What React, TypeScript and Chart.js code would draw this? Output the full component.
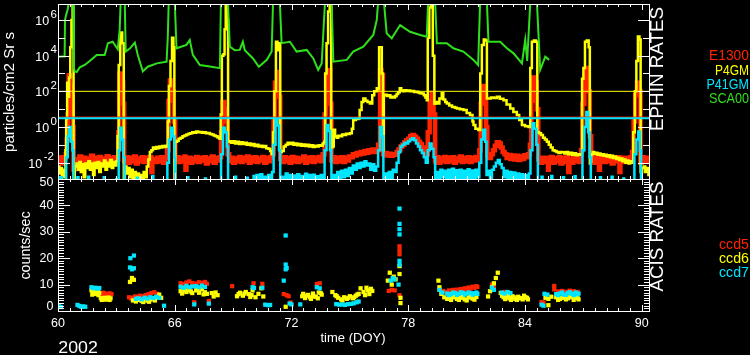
import React, { useEffect, useRef } from "react";
import { Chart, registerables } from "chart.js";
Chart.register(...registerables);

// ---------- axis ranges / ticks ----------
const X_MIN = 60;
const X_MAX = 90.37;
const TOP_MIN = 0.00121;
const TOP_MAX = 7.89e6;
const ACIS_MIN = 0;
const ACIS_MAX = 50;
const xMajorTicks = [60, 66, 72, 78, 84, 90];
const xTickLabels = ["60", "66", "72", "78", "84", "90"];
const topDecades = [-2, -1, 0, 1, 2, 3, 4, 5, 6];
const topLabelExps = ["-2", "0", "2", "4", "6"];
const acisLabelVals = [0, 10, 20, 30, 40, 50];
const acisTickLabels = ["0", "10", "20", "30", "40", "50"];

// ---------- EPHIN series (day, particles/cm2 sr s) ----------
const sca00: [number, number][] = [
  [60.0, 8.7e3], [60.2, 9e3], [60.34, 9e3], [60.36, 1e6], [60.42, 2e6], [60.5, 4e6], [60.55, 1e7], [60.78, 1e7],
  [60.82, 2e3], [60.86, 1.3e3], [60.96, 1.2e3], [61.12, 2.2e3], [61.37, 3e3], [61.63, 5e3], [61.99, 1.1e4],
  [62.4, 1.1e4], [62.56, 5e4], [62.81, 6e4], [63.07, 2.3e4], [63.17, 3e5], [63.22, 1e7], [63.43, 1e7],
  [63.48, 1.7e4], [63.69, 2.5e4], [63.95, 5.4e4], [64.1, 1.1e4], [64.36, 1.3e3], [64.61, 2.4e3], [65.08, 3.7e3],
  [65.58, 4.6e3], [65.64, 1e5], [65.69, 1e7], [66.0, 1e7], [66.09, 2.6e4], [66.6, 4e4], [66.77, 7.6e4],
  [66.93, 1.1e4], [67.29, 3e3], [67.8, 2.5e3], [68.32, 2e3], [68.37, 1e7], [68.73, 1e7], [68.83, 3.2e4],
  [69.09, 2e4], [69.34, 2.1e4], [69.5, 6e4], [69.6, 2e4], [70.02, 7e3], [70.32, 2.4e3], [70.73, 5.8e3],
  [70.98, 1.7e4], [71.05, 1e7], [71.4, 1e7], [71.49, 5e4], [71.92, 6e4], [72.26, 1.7e4], [72.78, 2.1e4],
  [73.12, 7e3], [73.37, 1.6e3], [73.55, 3.7e3], [73.72, 1e7], [74.06, 1e7], [74.15, 4.6e3], [74.84, 5.8e3],
  [75.17, 1.7e4], [75.69, 3.2e4], [76.2, 1.45e5], [76.38, 1e6], [76.45, 1e7], [76.75, 1e7], [76.89, 1.8e5],
  [77.15, 9.3e4], [77.58, 5.2e5], [78.09, 2.2e5], [78.61, 1.45e5], [78.95, 1.15e5], [79.02, 1e7], [79.38, 1e7],
  [79.47, 5e4], [79.98, 5e4], [80.32, 2.6e4], [80.83, 1.7e4], [81.35, 5.8e3], [81.59, 3e3], [81.69, 1e7],
  [82.04, 1e7], [82.12, 6e4], [82.72, 6e4], [83.07, 2.6e4], [83.41, 1.35e4], [83.84, 3.7e3], [84.01, 7.6e4],
  [84.11, 5e3], [84.27, 1e7], [84.61, 1e7], [84.78, 1.6e3], [85.04, 8.7e3], [85.24, 5.8e3],
];

const p4gm: [number, number][] = [
  [60.0, 0.006], [60.07, 0.0025], [60.14, 0.005], [60.2, 0.0018], [60.27, 0.004], [60.33, 0.0015], [60.38, 0.05],
  [60.42, 3], [60.47, 300], [60.52, 50], [60.57, 600], [60.63, 3e4], [60.69, 1e6], [60.75, 8e6], [60.8, 1e-4],
  [60.86, 0.006], [60.95, 0.009], [61.02, 0.004], [61.1, 0.011], [61.17, 0.003], [61.25, 0.008], [61.32, 0.0015],
  [61.4, 0.009], [61.48, 0.005], [61.56, 0.012], [61.64, 0.004], [61.72, 0.009], [61.8, 0.002], [61.88, 0.01],
  [61.96, 0.005], [62.04, 0.011], [62.12, 0.003], [62.2, 0.009], [62.28, 0.006], [62.36, 0.013], [62.44, 0.004],
  [62.52, 0.01], [62.6, 0.006], [62.68, 0.014], [62.76, 0.005], [62.84, 0.011], [62.92, 0.007], [63.0, 0.012],
  [63.06, 0.3], [63.12, 3e3], [63.2, 2e5], [63.3, 5e4], [63.38, 1e-4], [63.44, 0.006], [63.52, 0.0025],
  [63.6, 0.005], [63.68, 0.0015], [63.76, 0.004], [63.84, 0.0012], [63.92, 0.003], [64.0, 0.0011], [64.08, 0.0025],
  [64.16, 0.001], [64.24, 0.002], [64.32, 0.0012], [64.4, 0.003], [64.48, 0.0015], [64.56, 0.006], [64.64, 0.015],
  [64.72, 0.04], [64.8, 0.05], [64.88, 0.07], [64.96, 0.06], [65.04, 0.075], [65.12, 0.065], [65.2, 0.08],
  [65.28, 0.07], [65.36, 0.085], [65.44, 0.075], [65.52, 0.09], [65.58, 0.08], [65.64, 2], [65.7, 200],
  [65.78, 5e3], [65.86, 1e5], [65.93, 3e4], [65.98, 1e-4], [66.03, 0.15], [66.12, 0.17], [66.2, 0.22],
  [66.3, 0.25], [66.4, 0.3], [66.5, 0.33], [66.6, 0.38], [66.7, 0.42], [66.8, 0.45], [66.9, 0.5], [67.0, 0.48],
  [67.1, 0.55], [67.2, 0.5], [67.3, 0.52], [67.4, 0.47], [67.5, 0.5], [67.6, 0.44], [67.7, 0.46], [67.8, 0.4],
  [67.9, 0.38], [68.0, 0.33], [68.1, 0.3], [68.2, 0.26], [68.3, 0.22], [68.36, 5], [68.42, 1e4], [68.5, 1.2e4],
  [68.56, 3e5], [68.62, 8e6], [68.69, 1e6], [68.74, 0.15], [68.8, 0.16], [68.9, 0.13], [69.0, 0.16], [69.1, 0.12],
  [69.2, 0.15], [69.3, 0.11], [69.4, 0.14], [69.5, 0.11], [69.6, 0.13], [69.7, 0.1], [69.8, 0.12], [69.9, 0.095],
  [70.0, 0.11], [70.1, 0.085], [70.2, 0.1], [70.3, 0.08], [70.4, 0.09], [70.5, 0.075], [70.6, 0.085], [70.7, 0.065],
  [70.8, 0.06], [70.9, 0.045], [70.98, 0.03], [71.05, 0.5], [71.12, 100], [71.2, 6e4], [71.28, 2e4], [71.35, 5e4],
  [71.42, 0.04], [71.5, 0.045], [71.6, 0.08], [71.7, 0.1], [71.8, 0.13], [71.9, 0.11], [72.0, 0.13], [72.1, 0.1],
  [72.2, 0.12], [72.3, 0.095], [72.4, 0.11], [72.5, 0.09], [72.6, 0.105], [72.7, 0.085], [72.8, 0.1], [72.9, 0.08],
  [73.0, 0.095], [73.1, 0.075], [73.2, 0.09], [73.3, 0.08], [73.4, 0.095], [73.5, 0.09], [73.6, 0.12], [73.68, 0.15],
  [73.73, 1e3], [73.8, 5e4], [73.88, 3e6], [73.96, 8e6], [74.04, 0.07], [74.1, 0.08], [74.17, 0.7], [74.24, 0.3],
  [74.32, 0.25], [74.4, 0.32], [74.5, 0.3], [74.6, 0.38], [74.7, 0.35], [74.8, 0.42], [74.9, 0.4], [75.0, 0.45],
  [75.1, 0.8], [75.17, 2.5], [75.3, 2.8], [75.43, 3], [75.5, 9], [75.6, 25], [75.69, 40], [75.8, 30], [75.9, 25],
  [76.03, 21], [76.15, 60], [76.25, 100], [76.38, 150], [76.45, 130], [76.5, 3e4], [76.58, 3e4], [76.64, 1e3],
  [76.7, 0.05], [76.74, 60], [76.82, 65], [76.9, 55], [77.0, 60], [77.08, 45], [77.16, 50], [77.24, 45],
  [77.32, 55], [77.4, 70], [77.48, 90], [77.56, 150], [77.64, 110], [77.72, 100], [77.8, 115], [77.9, 105],
  [78.0, 110], [78.1, 100], [78.2, 105], [78.3, 92], [78.4, 95], [78.5, 85], [78.6, 78], [78.7, 75], [78.8, 60],
  [78.88, 45], [78.95, 32], [79.0, 1e5], [79.08, 5e6], [79.16, 8e6], [79.26, 1e4], [79.34, 20], [79.4, 25],
  [79.48, 21], [79.6, 40], [79.72, 78], [79.8, 35], [79.9, 25], [79.98, 21], [80.1, 16], [80.25, 13], [80.4, 12],
  [80.5, 11], [80.65, 10], [80.83, 9], [81.0, 6], [81.17, 4.7], [81.3, 2], [81.35, 1.3], [81.45, 0.8], [81.6, 0.68],
  [81.7, 1e3], [81.78, 4e4], [81.88, 8e4], [81.96, 7e4], [82.04, 40], [82.12, 40], [82.25, 45], [82.4, 42],
  [82.55, 50], [82.7, 38], [82.89, 32], [83.05, 18], [83.24, 11], [83.4, 7], [83.58, 4.7], [83.7, 2.5],
  [83.84, 1.3], [84.0, 1.1], [84.18, 1.0], [84.27, 2e3], [84.35, 6e4], [84.45, 7e4], [84.55, 6e4], [84.63, 0.5],
  [84.72, 0.45], [84.82, 0.35], [84.92, 0.25], [85.02, 0.2], [85.12, 0.15], [85.22, 0.1], [85.32, 0.07],
  [85.42, 0.05], [85.52, 0.045], [85.62, 0.04], [85.72, 0.035], [85.82, 0.04], [85.92, 0.038], [86.02, 0.033],
  [86.12, 0.04], [86.22, 0.03], [86.32, 0.036], [86.42, 0.028], [86.52, 0.034], [86.62, 0.026], [86.72, 0.03],
  [86.8, 0.028], [86.88, 0.03], [86.93, 500], [87.0, 2e3], [87.08, 6e4], [87.17, 7e4], [87.27, 3e4], [87.33, 0.009],
  [87.4, 0.03], [87.48, 0.04], [87.56, 0.032], [87.64, 0.036], [87.72, 0.028], [87.8, 0.033], [87.88, 0.026],
  [87.96, 0.03], [88.04, 0.024], [88.12, 0.028], [88.2, 0.022], [88.28, 0.026], [88.36, 0.02], [88.44, 0.024],
  [88.52, 0.018], [88.6, 0.022], [88.68, 0.016], [88.76, 0.019], [88.84, 0.014], [88.92, 0.017], [89.0, 0.012],
  [89.08, 0.015], [89.16, 0.01], [89.24, 0.013], [89.32, 0.009], [89.4, 0.012], [89.48, 0.01], [89.56, 0.5],
  [89.64, 100], [89.72, 5e3], [89.8, 1.2e5], [89.88, 8e4], [89.94, 0.003], [90.02, 0.005], [90.1, 0.006],
  [90.18, 0.003], [90.26, 0.005], [90.34, 0.002], [90.4, 0.004],
];

const e1300: [number, number][] = [
  [60.0, 0.012], [60.1, 0.02], [60.2, 0.009], [60.3, 0.018], [60.4, 0.03], [60.45, 0.2], [60.5, 5], [60.55, 800],
  [60.62, 200], [60.7, 50], [60.76, 1], [60.8, 0.004], [60.85, 0.016], [61.0, 0.01], [61.1, 0.022], [61.2, 0.011],
  [61.3, 0.019], [61.4, 0.008], [61.5, 0.017], [61.6, 0.012], [61.7, 0.024], [61.8, 0.01], [61.9, 0.018],
  [62.0, 0.013], [62.1, 0.021], [62.2, 0.009], [62.3, 0.017], [62.4, 0.012], [62.5, 0.023], [62.6, 0.011],
  [62.7, 0.018], [62.8, 0.01], [62.9, 0.02], [63.0, 0.015], [63.1, 0.5], [63.15, 1000], [63.25, 300], [63.35, 20],
  [63.4, 0.012], [63.5, 0.02], [63.6, 0.01], [63.7, 0.018], [63.8, 0.012], [63.9, 0.022], [64.0, 0.009],
  [64.1, 0.017], [64.2, 0.012], [64.3, 0.02], [64.4, 0.011], [64.5, 0.019], [64.6, 0.013], [64.7, 0.021],
  [64.8, 0.003], [64.85, 0.016], [65.0, 0.011], [65.1, 0.019], [65.2, 0.012], [65.3, 0.02], [65.4, 0.01],
  [65.5, 0.018], [65.6, 0.05], [65.68, 30], [65.75, 400], [65.85, 100], [65.95, 2], [66.02, 0.015], [66.1, 0.02],
  [66.2, 0.011], [66.3, 0.018], [66.4, 0.013], [66.5, 0.022], [66.55, 0.004], [66.6, 0.012], [66.7, 0.019],
  [66.8, 0.01], [66.9, 0.017], [67.0, 0.012], [67.1, 0.021], [67.2, 0.011], [67.3, 0.018], [67.4, 0.013],
  [67.5, 0.02], [67.6, 0.009], [67.7, 0.017], [67.8, 0.012], [67.9, 0.022], [68.0, 0.01], [68.1, 0.018],
  [68.2, 0.013], [68.3, 0.02], [68.38, 0.5], [68.45, 25], [68.55, 10], [68.65, 2], [68.72, 0.03], [68.8, 0.012],
  [68.9, 0.019], [69.0, 0.01], [69.1, 0.017], [69.2, 0.012], [69.3, 0.021], [69.4, 0.011], [69.5, 0.018],
  [69.6, 0.013], [69.7, 0.022], [69.8, 0.01], [69.9, 0.019], [70.0, 0.012], [70.1, 0.02], [70.2, 0.011],
  [70.3, 0.017], [70.4, 0.013], [70.5, 0.021], [70.6, 0.01], [70.7, 0.018], [70.8, 0.012], [70.9, 0.02],
  [71.0, 0.03], [71.08, 2], [71.15, 300], [71.25, 1200], [71.35, 50], [71.42, 0.016], [71.5, 0.011], [71.6, 0.02],
  [71.7, 0.012], [71.8, 0.018], [71.9, 0.01], [72.0, 0.021], [72.1, 0.012], [72.2, 0.019], [72.3, 0.011],
  [72.4, 0.017], [72.5, 0.013], [72.6, 0.022], [72.7, 0.01], [72.8, 0.018], [72.9, 0.012], [73.0, 0.02],
  [73.1, 0.011], [73.2, 0.019], [73.3, 0.013], [73.4, 0.021], [73.5, 0.012], [73.6, 0.03], [73.7, 5], [73.78, 800],
  [73.88, 1500], [73.98, 20], [74.05, 0.013], [74.15, 0.02], [74.25, 0.011], [74.35, 0.018], [74.45, 0.012],
  [74.55, 0.02], [74.65, 0.011], [74.75, 0.019], [74.85, 0.013], [74.95, 0.022], [75.05, 0.02], [75.15, 0.03],
  [75.25, 0.025], [75.35, 0.035], [75.45, 0.03], [75.55, 0.04], [75.65, 0.033], [75.75, 0.045], [75.85, 0.036],
  [75.95, 0.05], [76.05, 0.04], [76.15, 0.055], [76.25, 0.04], [76.35, 0.05], [76.45, 0.1], [76.55, 1500],
  [76.62, 800], [76.7, 0.03], [76.8, 0.035], [76.9, 0.025], [77.0, 0.032], [77.1, 0.024], [77.2, 0.03],
  [77.3, 0.028], [77.4, 0.04], [77.5, 0.055], [77.6, 0.08], [77.7, 0.1], [77.8, 0.14], [77.9, 0.18], [78.0, 0.22],
  [78.1, 0.3], [78.2, 0.35], [78.3, 0.28], [78.4, 0.22], [78.5, 0.15], [78.6, 0.11], [78.7, 0.07], [78.8, 0.05],
  [78.9, 0.03], [79.0, 0.5], [79.1, 30], [79.2, 80], [79.3, 5], [79.38, 0.012], [79.45, 0.02], [79.55, 0.01],
  [79.65, 0.018], [79.75, 0.012], [79.85, 0.021], [79.95, 0.011], [80.05, 0.019], [80.15, 0.012], [80.25, 0.02],
  [80.35, 0.01], [80.45, 0.017], [80.55, 0.013], [80.65, 0.022], [80.75, 0.011], [80.85, 0.018], [80.95, 0.012],
  [81.05, 0.02], [81.15, 0.011], [81.25, 0.019], [81.35, 0.013], [81.45, 0.021], [81.55, 0.015], [81.65, 0.05],
  [81.72, 20], [81.8, 200], [81.9, 50], [82.0, 1], [82.06, 0.025], [82.15, 0.018], [82.25, 0.03], [82.35, 0.05],
  [82.45, 0.09], [82.55, 0.14], [82.65, 0.12], [82.75, 0.07], [82.85, 0.04], [82.95, 0.03], [83.05, 0.018],
  [83.15, 0.027], [83.25, 0.016], [83.35, 0.025], [83.45, 0.015], [83.55, 0.024], [83.65, 0.014], [83.75, 0.022],
  [83.85, 0.016], [83.95, 0.026], [84.05, 0.02], [84.15, 0.03], [84.25, 0.1], [84.32, 30], [84.4, 600],
  [84.5, 300], [84.6, 10], [84.68, 0.015], [84.78, 0.01], [84.88, 0.019], [84.98, 0.011], [85.08, 0.018],
  [85.18, 0.004], [85.22, 0.013], [85.32, 0.021], [85.42, 0.01], [85.52, 0.017], [85.62, 0.012], [85.72, 0.02],
  [85.82, 0.009], [85.92, 0.018], [86.02, 0.011], [86.12, 0.02], [86.22, 0.003], [86.28, 0.015], [86.38, 0.01],
  [86.48, 0.019], [86.58, 0.012], [86.68, 0.02], [86.78, 0.011], [86.88, 0.05], [86.95, 20], [87.05, 800],
  [87.15, 2000], [87.25, 100], [87.33, 0.3], [87.4, 0.013], [87.5, 0.021], [87.6, 0.01], [87.7, 0.018],
  [87.8, 0.004], [87.85, 0.014], [87.95, 0.02], [88.05, 0.011], [88.15, 0.019], [88.25, 0.012], [88.35, 0.021],
  [88.45, 0.009], [88.55, 0.017], [88.65, 0.012], [88.75, 0.02], [88.85, 0.003], [88.9, 0.013], [89.0, 0.019],
  [89.1, 0.011], [89.2, 0.018], [89.3, 0.012], [89.4, 0.02], [89.5, 0.04], [89.58, 2], [89.66, 60], [89.75, 300],
  [89.85, 100], [89.93, 0.01], [90.0, 0.02], [90.1, 0.012], [90.2, 0.019], [90.3, 0.011], [90.4, 0.017],
];

const p41gm: [number, number][] = [
  [60.0, 0.0005], [60.1, 0.0015], [60.2, 0.0004], [60.35, 0.0004], [60.42, 0.02], [60.5, 0.3], [60.58, 1.0],
  [60.66, 0.15], [60.74, 0.05], [60.8, 0.0004], [60.9, 0.0004], [61.0, 0.0015], [61.05, 0.0004], [61.5, 0.0004],
  [61.55, 0.0016], [61.6, 0.0004], [62.3, 0.0004], [62.35, 0.0015], [62.4, 0.0004], [62.9, 0.0004], [63.0, 0.0012],
  [63.08, 0.0004], [63.12, 0.05], [63.2, 0.9], [63.28, 0.2], [63.36, 0.02], [63.42, 0.0004], [64.0, 0.0004],
  [64.05, 0.0014], [64.1, 0.0004], [64.8, 0.0004], [64.85, 0.0018], [64.9, 0.0004], [65.55, 0.0004], [65.62, 0.01],
  [65.7, 0.2], [65.8, 0.9], [65.9, 0.3], [65.98, 0.02], [66.02, 0.0004], [66.6, 0.0004], [66.65, 0.0015],
  [66.7, 0.0004], [67.5, 0.0004], [67.55, 0.0013], [67.6, 0.0004], [68.3, 0.0004], [68.38, 0.03], [68.48, 0.9],
  [68.58, 0.5], [68.68, 0.08], [68.74, 0.0004], [69.0, 0.0004], [69.1, 0.0016], [69.15, 0.0004], [69.6, 0.0004],
  [69.7, 0.0014], [69.75, 0.0004], [70.0, 0.0004], [70.05, 0.0018], [70.12, 0.0006], [70.2, 0.002], [70.3, 0.0008],
  [70.4, 0.0022], [70.5, 0.0007], [70.6, 0.0016], [70.7, 0.0009], [70.8, 0.002], [70.9, 0.0007], [71.0, 0.003],
  [71.08, 0.1], [71.18, 2.4], [71.28, 1.2], [71.36, 0.05], [71.42, 0.0004], [71.5, 0.0016], [71.6, 0.0007],
  [71.7, 0.0025], [71.8, 0.0008], [71.9, 0.002], [72.0, 0.0006], [72.1, 0.0019], [72.2, 0.0009], [72.3, 0.0022],
  [72.4, 0.0007], [72.5, 0.0018], [72.6, 0.0008], [72.7, 0.0024], [72.8, 0.0006], [72.9, 0.002], [73.0, 0.0009],
  [73.1, 0.0021], [73.2, 0.0007], [73.3, 0.0017], [73.4, 0.0008], [73.5, 0.002], [73.6, 0.0005], [73.7, 0.05],
  [73.8, 1.3], [73.9, 0.6], [73.98, 0.05], [74.05, 0.0004], [74.15, 0.002], [74.25, 0.0009], [74.35, 0.003],
  [74.45, 0.0012], [74.55, 0.0035], [74.65, 0.0015], [74.75, 0.004], [74.85, 0.0018], [74.95, 0.005],
  [75.05, 0.0025], [75.15, 0.007], [75.25, 0.004], [75.35, 0.009], [75.45, 0.005], [75.55, 0.01], [75.65, 0.006],
  [75.75, 0.012], [75.85, 0.007], [75.95, 0.009], [76.05, 0.004], [76.15, 0.008], [76.25, 0.0035], [76.35, 0.006],
  [76.45, 0.05], [76.55, 1.0], [76.65, 0.3], [76.72, 0.0006], [76.8, 0.0025], [76.9, 0.001], [77.0, 0.003],
  [77.1, 0.0012], [77.2, 0.004], [77.3, 0.003], [77.4, 0.01], [77.5, 0.04], [77.6, 0.08], [77.7, 0.1],
  [77.8, 0.13], [77.9, 0.12], [78.0, 0.16], [78.1, 0.2], [78.2, 0.23], [78.3, 0.18], [78.4, 0.12], [78.5, 0.08],
  [78.6, 0.05], [78.7, 0.035], [78.8, 0.02], [78.9, 0.01], [79.0, 0.05], [79.1, 0.12], [79.2, 0.06], [79.3, 0.02],
  [79.38, 0.0004], [79.45, 0.003], [79.55, 0.0012], [79.65, 0.004], [79.75, 0.0015], [79.85, 0.0035],
  [79.95, 0.0011], [80.05, 0.004], [80.15, 0.0013], [80.25, 0.0045], [80.35, 0.0012], [80.45, 0.0038],
  [80.55, 0.0014], [80.65, 0.004], [80.75, 0.001], [80.85, 0.0035], [80.95, 0.0012], [81.05, 0.0042],
  [81.15, 0.0011], [81.25, 0.0036], [81.35, 0.0013], [81.45, 0.004], [81.55, 0.0015], [81.65, 0.01], [81.75, 0.2],
  [81.85, 0.7], [81.95, 0.15], [82.02, 0.002], [82.1, 0.0035], [82.2, 0.0012], [82.3, 0.004], [82.4, 0.006],
  [82.5, 0.01], [82.6, 0.014], [82.7, 0.008], [82.8, 0.005], [82.9, 0.0015], [83.0, 0.0035], [83.1, 0.0011],
  [83.2, 0.003], [83.3, 0.001], [83.4, 0.0028], [83.5, 0.0009], [83.6, 0.0025], [83.7, 0.0008], [83.8, 0.0022],
  [83.9, 0.0008], [84.0, 0.002], [84.1, 0.0007], [84.2, 0.0025], [84.28, 0.05], [84.38, 1.6], [84.48, 0.8],
  [84.58, 0.1], [84.66, 0.0004], [84.8, 0.0004], [84.85, 0.0016], [84.9, 0.0004], [85.3, 0.0004], [85.35, 0.0018],
  [85.4, 0.0004], [85.9, 0.0004], [85.95, 0.0015], [86.0, 0.0004], [86.5, 0.0004], [86.55, 0.0017], [86.6, 0.0004],
  [86.9, 0.0004], [86.95, 0.05], [87.05, 1], [87.15, 7], [87.25, 0.5], [87.32, 0.02], [87.38, 0.0004],
  [87.8, 0.0004], [87.85, 0.0015], [87.9, 0.0004], [88.4, 0.0004], [88.45, 0.0016], [88.5, 0.0004], [89.0, 0.0004],
  [89.05, 0.0013], [89.1, 0.0004], [89.55, 0.0004], [89.62, 0.03], [89.72, 0.2], [89.82, 0.55], [89.9, 0.05],
  [89.96, 0.0004], [90.4, 0.0004],
];

// reference levels drawn across the EPHIN panel
const levelP4gm = 100;
const levelE1300 = 3.6;
const levelP41gm = 3.1;

// ---------- ACIS series (day, counts/sec) ----------
const ccd5: [number, number][] = [
  [62.15, 6.8], [62.25, 6.3], [62.35, 6.9], [62.45, 6.5], [62.55, 6.2], [62.65, 6.7], [62.75, 6.4],
  [63.65, 5.2], [63.75, 4.8], [63.85, 5.0], [63.95, 5.5], [64.05, 5.3], [64.2, 5.8], [64.35, 5.6], [64.5, 6.0],
  [64.65, 6.4], [64.8, 6.8], [64.95, 7.1], [65.1, 6.5],
  [66.3, 10.5], [66.45, 10.2], [66.6, 10.8], [66.75, 11.2], [66.9, 10.6], [67.0, 3.3],
  [67.1, 10.4], [67.25, 10.9], [67.4, 10.6], [67.55, 11.0], [67.65, 10.3], [67.75, 3.8],
  [68.95, 9.4], [70.05, 10.5], [70.5, 10.3],
  [71.6, 6.4], [71.75, 6.0], [71.85, 5.6], [71.95, 3.2],
  [73.3, 10.2], [73.45, 10.5],
  [77.0, 7.6], [77.15, 8.0], [77.3, 7.8], [77.55, 21.5], [77.55, 23], [77.55, 24.5], [77.55, 6],
  [79.6, 8.2], [79.8, 7.6], [79.95, 7.0],
  [80.0, 7.2], [80.2, 7.3], [80.4, 7.5], [80.6, 7.6], [80.8, 7.9], [81.0, 8.2], [81.2, 8.5], [81.4, 8.8], [81.55, 9.1],
  [80.1, 7.8], [80.3, 8.0], [80.5, 8.1], [80.7, 8.3], [80.9, 8.6], [81.1, 8.9], [81.3, 9.2], [81.5, 9.4],
  [82.3, 10.0], [82.4, 9.5], [82.95, 7.2], [83.1, 7.0],
  [84.85, 3.4], [84.95, 3.2], [85.5, 9.5], [85.5, 8.2],
  [85.7, 7.4], [85.9, 7.6], [86.1, 7.3], [86.3, 7.7], [86.5, 7.5], [86.7, 7.2],
];

const ccd6: [number, number][] = [
  [61.72, 7.8], [61.8, 6.8], [61.88, 7.5], [61.96, 6.5], [62.05, 7.2], [62.12, 6.9],
  [61.76, 6.2], [61.92, 8.0], [62.08, 6.0],
  [62.2, 4.9], [62.3, 4.6], [62.4, 5.0], [62.5, 4.7], [62.6, 5.1], [62.7, 4.8],
  [62.25, 4.2], [62.45, 4.3], [62.65, 4.2],
  [63.7, 11], [63.8, 12.5], [63.9, 11.8],
  [63.85, 4.0], [64.0, 3.6], [64.15, 4.2], [64.3, 3.8], [64.45, 4.4], [64.6, 3.9], [64.75, 4.3], [64.9, 4.6],
  [65.05, 5.2], [65.2, 6.2], [65.3, 5.0], [64.08, 4.6], [64.38, 3.4], [64.68, 3.5], [64.98, 4.0],
  [66.3, 7.5], [66.45, 8.4], [66.6, 7.2], [66.75, 8.0], [66.9, 6.8], [66.38, 6.6], [66.53, 7.8], [66.83, 7.4],
  [67.1, 7.8], [67.25, 6.9], [67.4, 8.2], [67.55, 7.1], [67.65, 6.5], [67.18, 8.4], [67.48, 6.3],
  [67.9, 6.8], [68.0, 5.5], [68.1, 7.0], [68.2, 6.0],
  [69.2, 5.6], [69.35, 6.9], [69.5, 5.8], [69.65, 7.2], [69.8, 6.4], [69.95, 6.0], [69.28, 6.4], [69.58, 6.6],
  [69.88, 5.3],
  [70.0, 7.8], [70.15, 5.2], [70.3, 6.5], [70.45, 8.6], [70.55, 5.5], [71.7, 1.6],
  [72.55, 5.6], [72.7, 4.9], [72.85, 6.1], [72.95, 5.2], [73.1, 6.6], [73.25, 5.4], [73.4, 7.0], [73.55, 6.2],
  [72.6, 6.5], [72.75, 5.8], [73.0, 4.6], [73.15, 5.5], [73.35, 4.8], [73.5, 6.8],
  [74.1, 7.2], [74.25, 6.0], [74.4, 5.0], [74.55, 4.4], [74.7, 5.2], [74.85, 4.6], [75.0, 5.6], [75.15, 4.8],
  [75.3, 5.8], [75.45, 6.5], [75.55, 8.6], [74.32, 5.6], [74.62, 4.0], [74.92, 5.0], [75.22, 5.2], [75.38, 6.2],
  [75.7, 7.2], [75.85, 8.8], [76.0, 6.4], [76.15, 7.6], [75.78, 6.0], [75.92, 7.8], [76.08, 8.4],
  [76.95, 11.5], [77.05, 14.5], [77.15, 10.0], [77.25, 13.0], [77.35, 12.0], [77.55, 14], [77.55, 17],
  [77.6, 5], [77.6, 3],
  [79.55, 11.5], [79.6, 9], [79.7, 6.5], [79.85, 5.2], [80.0, 4.6],
  [80.1, 4.8], [80.3, 5.2], [80.5, 4.6], [80.7, 5.0], [80.9, 4.4], [81.1, 5.1], [81.3, 4.7], [81.5, 5.3],
  [80.2, 4.2], [80.4, 5.6], [80.6, 4.2], [80.8, 5.5], [81.0, 4.0], [81.2, 5.6], [81.4, 4.3],
  [82.1, 5.5], [82.2, 7.5], [82.3, 9.0], [82.4, 10.5], [82.5, 12.5], [82.6, 14.5],
  [82.75, 6.8], [82.9, 5.2], [83.05, 6.0], [83.2, 4.8], [83.35, 5.6], [83.5, 4.6], [83.65, 5.4], [83.8, 4.9],
  [83.95, 5.8], [84.1, 5.0], [82.82, 5.8], [82.98, 4.5], [83.12, 5.4], [83.28, 4.2], [83.42, 5.2], [83.58, 4.2],
  [83.72, 4.8], [83.88, 4.4], [84.02, 5.2], [84.15, 4.4],
  [85.05, 5.0], [85.2, 4.6], [85.35, 5.4], [85.2, 2.2],
  [85.6, 5.2], [85.8, 4.6], [86.0, 5.6], [86.2, 4.8], [86.4, 5.4], [86.6, 5.0], [86.75, 4.4],
  [85.7, 4.2], [85.9, 5.0], [86.1, 4.4], [86.3, 5.2], [86.5, 4.2], [86.7, 5.0],
];

const ccd7: [number, number][] = [
  [60.05, 1.8], [60.15, 1.5],
  [61.0, 2.3], [61.1, 1.9], [61.2, 1.6], [61.3, 1.7], [61.4, 1.6],
  [61.72, 9.0], [61.82, 8.6], [61.92, 8.8], [62.02, 8.4], [62.12, 8.7],
  [63.7, 16.5], [63.8, 15.8], [63.9, 16.2], [63.72, 20], [63.9, 21],
  [64.0, 4.6], [64.15, 4.8], [64.3, 4.4], [64.45, 5.0], [64.6, 4.7], [64.75, 5.2], [64.9, 4.9], [65.05, 5.4],
  [65.2, 5.0], [65.45, 2.0],
  [66.3, 9.2], [66.45, 8.8], [66.6, 9.5], [66.75, 9.0], [66.9, 9.3], [67.0, 2.5],
  [67.1, 9.4], [67.25, 9.0], [67.4, 9.6], [67.55, 9.1], [67.75, 2.8],
  [70.0, 9.0], [70.07, 8.7], [70.5, 8.8],
  [70.65, 2.4], [70.8, 2.2], [70.9, 2.3],
  [71.7, 15.8], [71.75, 16.3], [71.7, 28.6], [71.7, 17.6], [71.6, 11.5], [71.9, 2.8], [72.0, 2.5], [72.45, 2.5],
  [73.3, 9.0], [73.45, 8.6],
  [74.3, 2.6], [74.45, 2.4], [74.6, 2.5], [74.75, 2.3], [74.9, 2.6], [75.05, 2.7], [75.2, 2.9], [75.35, 3.3],
  [75.45, 3.6],
  [77.1, 11.5], [77.2, 12.5], [77.3, 12],
  [77.55, 38.8], [77.55, 33], [77.55, 31], [77.55, 29], [77.55, 19], [77.55, 17.5], [77.5, 10],
  [79.6, 8.0], [79.75, 7.0],
  [80.0, 6.6], [80.2, 6.4], [80.4, 6.8], [80.6, 6.5], [80.8, 6.9], [81.0, 6.6], [81.2, 6.8], [81.4, 6.7], [81.55, 6.5],
  [80.1, 6.0], [80.3, 7.0], [80.5, 6.1], [80.7, 7.1], [80.9, 6.2], [81.1, 7.0], [81.3, 6.2], [81.5, 7.0],
  [82.3, 8.8], [82.4, 8.0], [82.8, 7.0], [82.95, 6.6], [83.1, 7.2], [83.25, 6.8],
  [84.85, 2.4], [84.95, 2.0], [85.0, 6.5], [85.15, 6.2],
  [85.6, 6.4], [85.8, 6.6], [86.0, 6.2], [86.2, 6.8], [86.4, 6.5], [86.6, 7.0], [86.75, 6.6],
  [85.7, 6.0], [85.9, 7.0], [86.1, 6.1], [86.3, 7.1], [86.5, 6.0], [86.7, 6.3],
];

// ---------- styling ----------
const RED = "#ff2400";
const YELLOW = "#ffff00";
const CYAN = "#00e6ff";
const GREEN = "#30e01c";
const WHITE = "#ffffff";
const FONT = '"Liberation Sans", Arial, sans-serif';

const pts = (a: [number, number][]) => a.map(([x, y]) => ({ x, y }));
const level = (v: number) => [{ x: X_MIN, y: v }, { x: X_MAX, y: v }];

function seg(ctx: CanvasRenderingContext2D, x1: number, y1: number, x2: number, y2: number) {
  ctx.beginPath();
  ctx.moveTo(x1, y1);
  ctx.lineTo(x2, y2);
  ctx.stroke();
}

function fitText(
  ctx: CanvasRenderingContext2D, text: string, x: number, y: number, size: number,
  width: number, rot: number, align: CanvasTextAlign, color: string
) {
  ctx.save();
  ctx.font = `${size}px ${FONT}`;
  const w = ctx.measureText(text).width;
  ctx.translate(x, y);
  if (rot) ctx.rotate(rot);
  ctx.scale(width / w, 1);
  ctx.textAlign = align;
  ctx.textBaseline = "middle";
  ctx.fillStyle = color;
  ctx.fillText(text, 0, 0);
  ctx.restore();
}

function drawXTicks(ctx: CanvasRenderingContext2D, chart: any) {
  const a = chart.chartArea;
  const xs = chart.scales.x;
  for (let i = 0; i <= 60; i++) {
    const t = X_MIN + i * 0.6;
    if (t > X_MAX) break;
    const px = Math.round(xs.getPixelForValue(t)) + 0.5;
    const len = i % 10 === 0 ? 6 : 3;
    seg(ctx, px, a.top, px, a.top + len);
    seg(ctx, px, a.bottom, px, a.bottom - len);
  }
}

const topAxes = {
  id: "topAxes",
  afterDatasetsDraw(chart: any) {
    const ctx = chart.ctx as CanvasRenderingContext2D;
    const a = chart.chartArea;
    const ys = chart.scales.y;
    ctx.save();
    ctx.strokeStyle = WHITE;
    ctx.lineWidth = 1;
    ctx.strokeRect(a.left + 0.5, a.top + 0.5, a.right - a.left, a.bottom - a.top);
    drawXTicks(ctx, chart);
    topDecades.forEach((d) => {
      const py = Math.round(ys.getPixelForValue(Math.pow(10, d))) + 0.5;
      const len = d % 2 === 0 ? 12 : 7;
      seg(ctx, a.left, py, a.left + len, py);
      seg(ctx, a.right + 1, py, a.right + 1 - len, py);
    });
    ctx.fillStyle = WHITE;
    ctx.textBaseline = "middle";
    topLabelExps.forEach((e) => {
      const py = ys.getPixelForValue(Math.pow(10, Number(e)));
      const right = e.startsWith("-") ? 54 : 57;
      ctx.font = `11.5px ${FONT}`;
      ctx.textAlign = "right";
      const ew = ctx.measureText(e).width;
      ctx.fillText(e, right, py - 5.5);
      ctx.font = `12.5px ${FONT}`;
      ctx.fillText("10", right - ew - 1.5, py + 1.5);
    });
    fitText(ctx, "particles/cm2 Sr s", 10, 92, 14, 120, -Math.PI / 2, "center", WHITE);
    fitText(ctx, "EPHIN RATES", 658, 69, 19, 124, -Math.PI / 2, "center", WHITE);
    fitText(ctx, "E1300", 749, 56, 15, 40, 0, "right", RED);
    fitText(ctx, "P4GM", 749, 70.5, 15, 34, 0, "right", YELLOW);
    fitText(ctx, "P41GM", 749, 84.5, 15, 42.5, 0, "right", CYAN);
    fitText(ctx, "SCA00", 749, 98.5, 15, 40, 0, "right", GREEN);
    ctx.restore();
  },
};

const bottomAxes = {
  id: "bottomAxes",
  afterDatasetsDraw(chart: any) {
    const ctx = chart.ctx as CanvasRenderingContext2D;
    const a = chart.chartArea;
    const xs = chart.scales.x;
    const ys = chart.scales.y;
    ctx.save();
    ctx.strokeStyle = WHITE;
    ctx.lineWidth = 1;
    ctx.strokeRect(a.left + 0.5, a.top + 0.5, a.right - a.left, a.bottom - a.top);
    drawXTicks(ctx, chart);
    for (let v = ACIS_MIN; v <= ACIS_MAX; v++) {
      const py = Math.round(ys.getPixelForValue(v)) + 0.5;
      const len = v % 10 === 0 ? 12 : 6;
      seg(ctx, a.left, py, a.left + len, py);
      seg(ctx, a.right + 1, py, a.right + 1 - len, py);
    }
    ctx.fillStyle = WHITE;
    ctx.font = `12.5px ${FONT}`;
    ctx.textBaseline = "middle";
    ctx.textAlign = "right";
    acisLabelVals.forEach((v, i) => {
      let py = ys.getPixelForValue(v);
      if (v === ACIS_MIN) py -= 4;
      if (v === ACIS_MAX) py += 4;
      ctx.fillText(acisTickLabels[i], 53.5, py);
    });
    ctx.textAlign = "center";
    xMajorTicks.forEach((t, i) => {
      ctx.fillText(xTickLabels[i], xs.getPixelForValue(t), 324);
    });
    fitText(ctx, "time (DOY)", 353, 338.5, 13.5, 65, 0, "center", WHITE);
    fitText(ctx, "2002", 78, 348.5, 17, 39.5, 0, "center", WHITE);
    fitText(ctx, "counts/sec", 26, 245.5, 14, 68, -Math.PI / 2, "center", WHITE);
    fitText(ctx, "ACIS RATES", 658, 236.5, 19, 110, -Math.PI / 2, "center", WHITE);
    fitText(ctx, "ccd5", 749, 245, 14, 30, 0, "right", RED);
    fitText(ctx, "ccd6", 749, 259, 14, 30, 0, "right", YELLOW);
    fitText(ctx, "ccd7", 749, 273, 14, 30, 0, "right", CYAN);
    ctx.restore();
  },
};

function lineSet(
  label: string, data: [number, number][], color: string, width: number, order: number, stepped: boolean
) {
  return {
    label, data: pts(data), borderColor: color, backgroundColor: color, borderWidth: width,
    pointRadius: 0, order, borderJoinStyle: "miter" as const, tension: 0, stepped,
  };
}

function pointSet(label: string, data: [number, number][], color: string, order: number) {
  return {
    label, data: pts(data), borderColor: color, backgroundColor: color, borderWidth: 0,
    pointStyle: "rect" as const, pointRadius: 3, order,
  };
}

export default function App() {
  const topRef = useRef<HTMLCanvasElement>(null);
  const botRef = useRef<HTMLCanvasElement>(null);

  useEffect(() => {
    const top = new Chart(topRef.current as HTMLCanvasElement, {
      type: "line",
      data: {
        datasets: [
          lineSet("E1300", e1300, RED, 4.5, 6, true),
          lineSet("P4GM", p4gm, YELLOW, 2.5, 5, true),
          lineSet("P41GM", p41gm, CYAN, 2.5, 4, true),
          lineSet("SCA00", sca00, GREEN, 2, 3, false),
          { ...lineSet("P4GM level", [], YELLOW, 1, 2, false), data: level(levelP4gm) },
          { ...lineSet("E1300 level", [], RED, 1, 2, false), data: level(levelE1300) },
          { ...lineSet("P41GM level", [], CYAN, 2, 1, false), data: level(levelP41gm) },
        ],
      },
      options: {
        animation: false,
        responsive: false,
        devicePixelRatio: 1,
        events: [],
        layout: { padding: { left: 58, top: 4, right: 101, bottom: 176 } },
        plugins: { legend: { display: false }, tooltip: { enabled: false } },
        scales: {
          x: { type: "linear", min: X_MIN, max: X_MAX, display: false },
          y: { type: "logarithmic", min: TOP_MIN, max: TOP_MAX, display: false },
        },
      },
      plugins: [topAxes],
    } as any);

    const bottom = new Chart(botRef.current as HTMLCanvasElement, {
      type: "scatter",
      data: {
        datasets: [
          pointSet("ccd5", ccd5, RED, 3),
          pointSet("ccd6", ccd6, YELLOW, 2),
          pointSet("ccd7", ccd7, CYAN, 1),
        ],
      },
      options: {
        animation: false,
        responsive: false,
        devicePixelRatio: 1,
        events: [],
        layout: { padding: { left: 58, top: 179, right: 101, bottom: 44 } },
        plugins: { legend: { display: false }, tooltip: { enabled: false } },
        scales: {
          x: { type: "linear", min: X_MIN, max: X_MAX, display: false },
          y: { type: "linear", min: ACIS_MIN, max: ACIS_MAX, display: false },
        },
      },
      plugins: [bottomAxes],
    } as any);

    return () => {
      top.destroy();
      bottom.destroy();
    };
  }, []);

  const cstyle: React.CSSProperties = { position: "absolute", left: 0, top: 0, width: 750, height: 355 };
  return (
    <div style={{ position: "fixed", left: 0, top: 0, width: 750, height: 355, background: "#000" }}>
      <canvas ref={topRef} width={750} height={355} style={cstyle} />
      <canvas ref={botRef} width={750} height={355} style={cstyle} />
    </div>
  );
}
